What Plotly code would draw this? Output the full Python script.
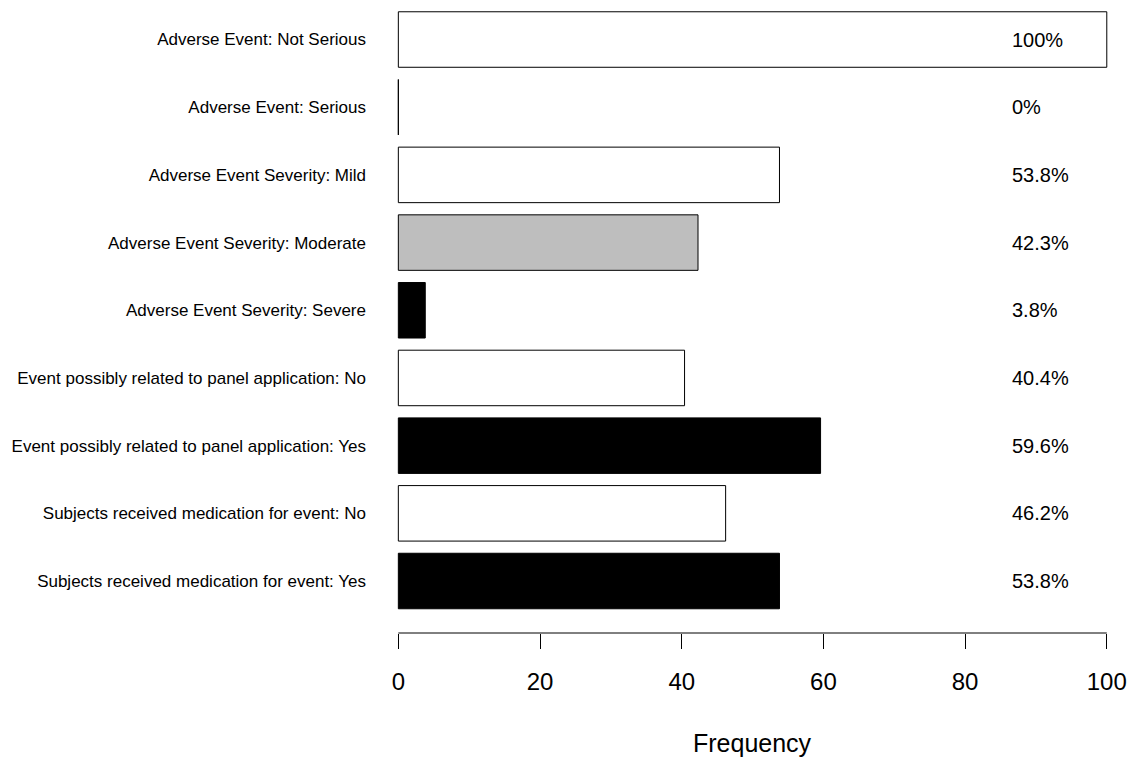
import plotly.graph_objects as go

categories = [
    "Adverse Event: Not Serious",
    "Adverse Event: Serious",
    "Adverse Event Severity: Mild",
    "Adverse Event Severity: Moderate",
    "Adverse Event Severity: Severe",
    "Event possibly related to panel application: No",
    "Event possibly related to panel application: Yes",
    "Subjects received medication for event: No",
    "Subjects received medication for event: Yes",
]
values = [100, 0, 53.8, 42.3, 3.8, 40.4, 59.6, 46.2, 53.8]
bar_colors = ["white", "white", "white", "#BEBEBE", "black", "white", "black", "white", "black"]
x_ticks = [0, 20, 40, 60, 80, 100]
x_title = "Frequency"
label_x = 86.4

FONT = "Liberation Sans, Arial, sans-serif"
pos = list(range(len(categories)))

fig = go.Figure()
fig.add_trace(go.Bar(
    x=values, y=pos, orientation="h", width=0.82,
    marker=dict(color=bar_colors, line=dict(color="black", width=1)),
    hoverinfo="skip", showlegend=False,
))

for p, v in zip(pos, values):
    fig.add_annotation(x=label_x, y=p, xref="x", yref="y", text=f"{v:g}%",
                       showarrow=False, xanchor="left", yanchor="middle",
                       font=dict(family=FONT, size=20, color="black"))

fig.add_annotation(x=50, y=0, xref="x", yref="paper", text=x_title, showarrow=False,
                   xanchor="center", yanchor="middle", yshift=-110,
                   font=dict(family=FONT, size=25, color="black"))

fig.add_shape(type="line", xref="x", yref="paper", x0=x_ticks[0], x1=x_ticks[-1], y0=0, y1=0,
              line=dict(color="black", width=1))

fig.update_layout(
    width=1133, height=758,
    margin=dict(l=370, r=0, t=5, b=125),
    plot_bgcolor="white", paper_bgcolor="white",
    font=dict(family=FONT, color="black"),
    xaxis=dict(range=[-4, 103.7], tickvals=x_ticks, ticks="outside", ticklen=15,
               tickcolor="black", tickwidth=1, showline=False, showgrid=False,
               zeroline=False, ticklabelstandoff=12,
               tickfont=dict(family=FONT, size=24, color="black")),
    yaxis=dict(range=[8.768, -0.51], tickvals=pos, ticktext=categories, ticks="",
               showline=False, showgrid=False, zeroline=False, ticklabelstandoff=3,
               tickfont=dict(family=FONT, size=17, color="black")),
)

fig.write_html("out.html", config={"displayModeBar": False},
               post_script="document.body.style.margin='0';document.body.style.overflow='hidden';")
